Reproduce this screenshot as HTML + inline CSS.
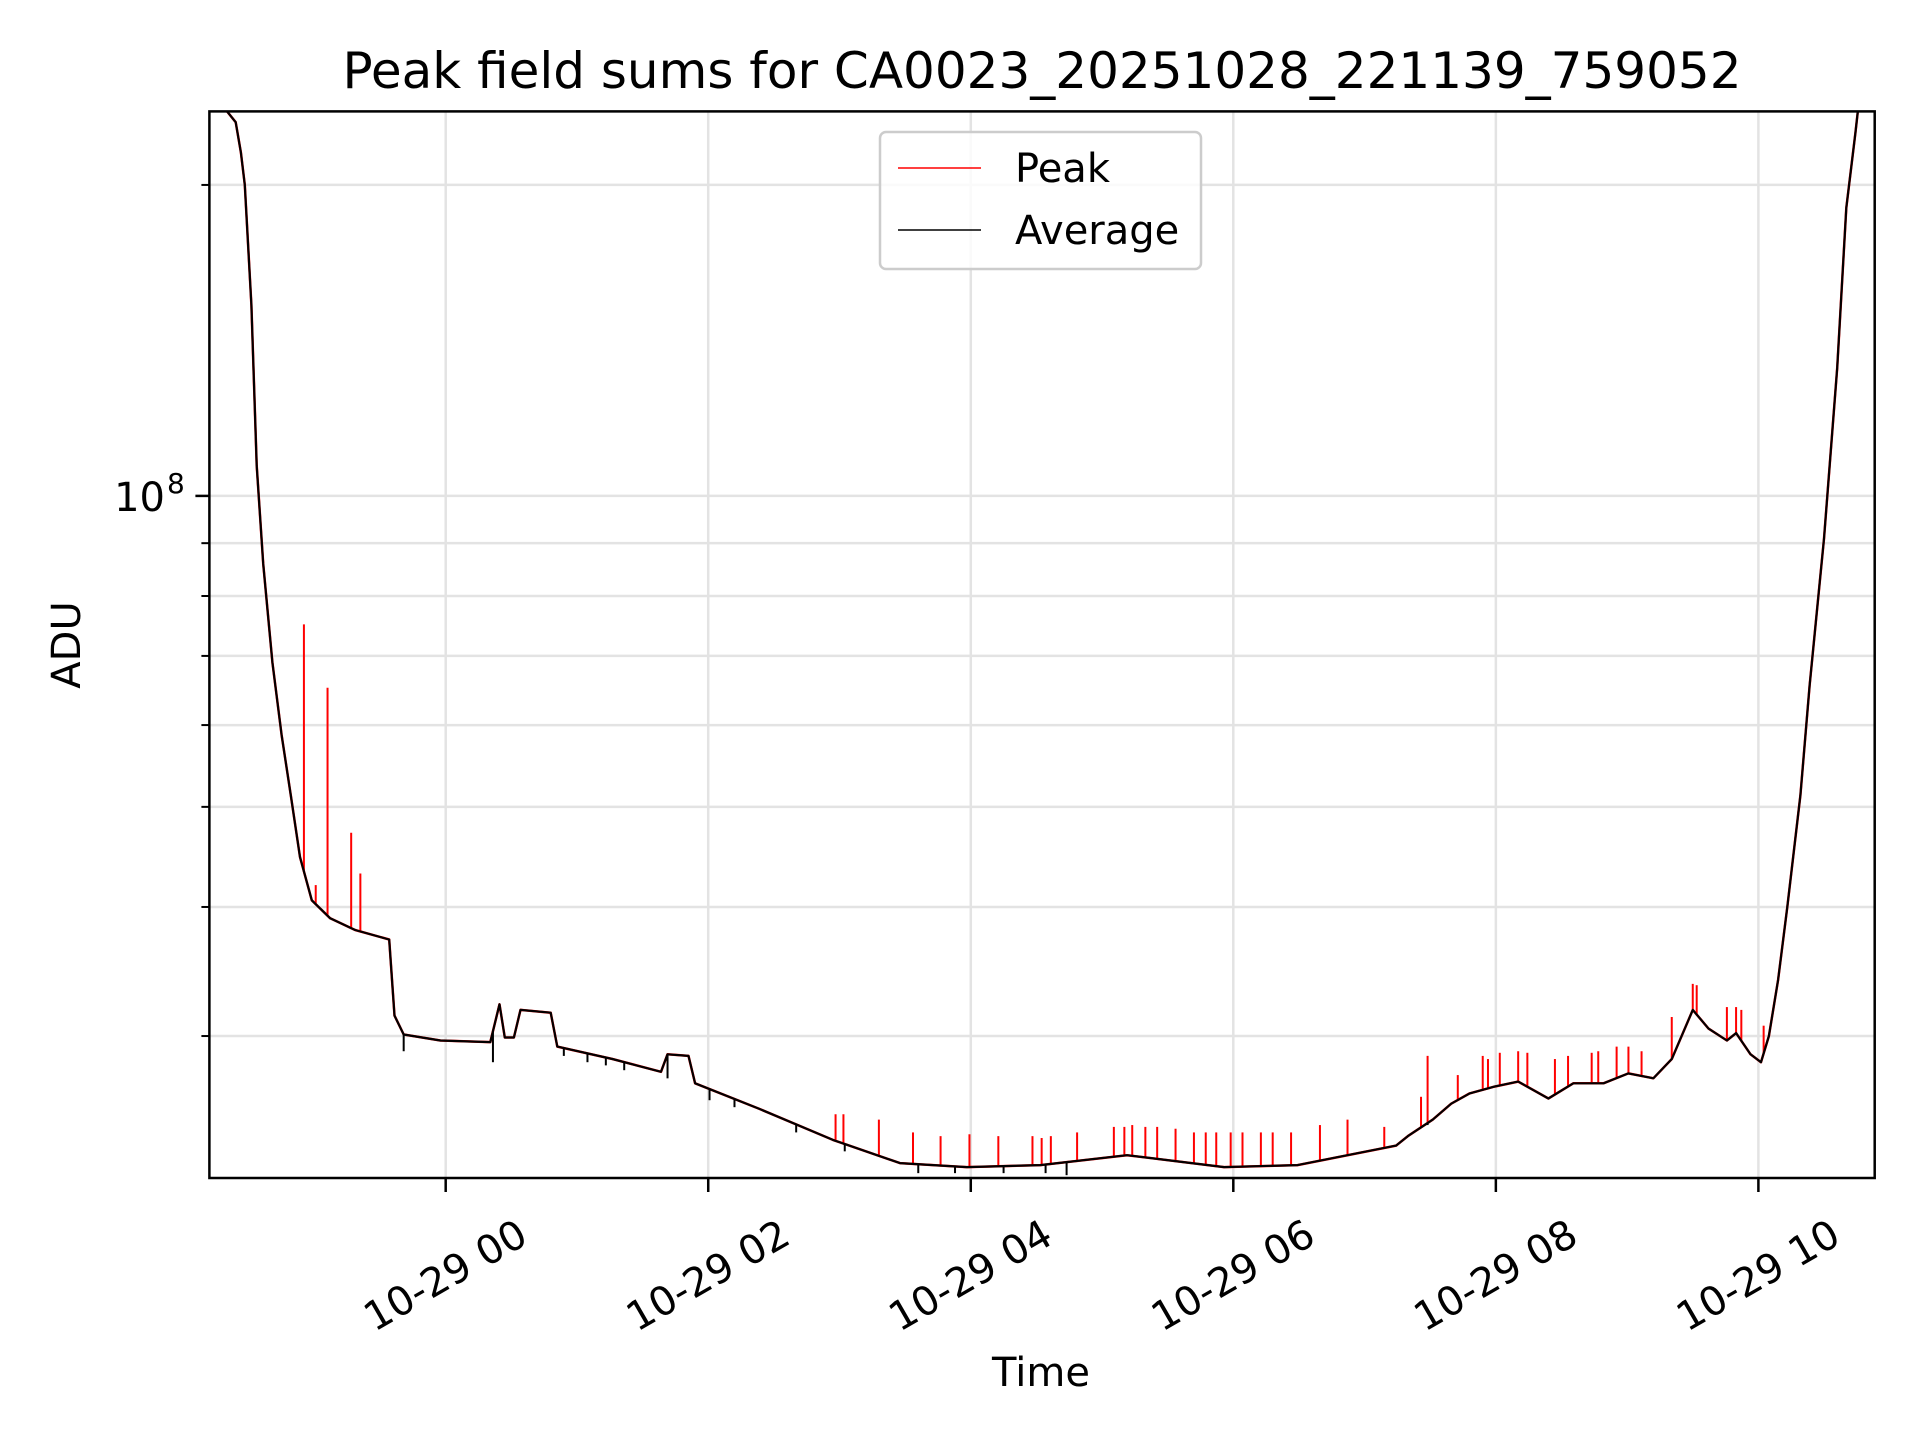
<!DOCTYPE html>
<html><head><meta charset="utf-8"><style>
html,body{margin:0;padding:0;background:#fff;}
svg{display:block;font-family:"DejaVu Sans","Liberation Sans",sans-serif;}
</style></head><body>
<svg id="chart" width="1920" height="1440" viewBox="0 0 1920 1440" xmlns="http://www.w3.org/2000/svg">
<rect width="1920" height="1440" fill="#fff"/>
<g id="grid"></g>
<g id="series"></g>
<rect x="209.4" y="111.4" width="1665.3" height="1066.6" fill="none" stroke="#000" stroke-width="2.5"/>
<g id="axes"></g>
<text x="1042" y="88" font-size="50" text-anchor="middle">Peak field sums for CA0023_20251028_221139_759052</text>
<text x="1041" y="1386" font-size="40" text-anchor="middle">Time</text>
<text transform="translate(80,645) rotate(-90)" font-size="40" text-anchor="middle">ADU</text>
<g>
<rect x="880" y="132" width="321" height="137" rx="6" fill="#fff" fill-opacity="0.8" stroke="#ccc" stroke-width="2.5"/>
<line x1="898" y1="168" x2="981" y2="168" stroke="#f00" stroke-width="1.5"/>
<text x="1015" y="182" font-size="40">Peak</text>
<line x1="898" y1="230" x2="981" y2="230" stroke="#000" stroke-width="1.5"/>
<text x="1015" y="244" font-size="40">Average</text>
</g>
</svg>
<script>
// hours relative to 2025-10-29 00:00
const avgTimes=[-1.80,-1.67,-1.60,-1.56,-1.53,-1.48,-1.44,-1.39,-1.32,-1.25,-1.18,-1.11,-1.02,-0.88,-0.69,-0.43,-0.39,-0.32,-0.04,0.34,0.41,0.45,0.52,0.57,0.80,0.85,1.27,1.64,1.69,1.85,1.90,2.39,2.95,3.46,3.97,4.53,5.19,5.93,6.49,7.24,7.33,7.52,7.66,7.80,7.99,8.17,8.40,8.59,8.82,9.01,9.20,9.34,9.50,9.62,9.76,9.83,9.94,10.02,10.08,10.15,10.22,10.32,10.39,10.50,10.60,10.67,10.74,10.78,10.89];
const avgValues=[2.5e8,2.36e8,2.3e8,2.15e8,2.0e8,1.53e8,1.07e8,8.6e7,6.9e7,5.87e7,5.13e7,4.47e7,4.06e7,3.9e7,3.8e7,3.72e7,3.14e7,3.01e7,2.97e7,2.96e7,3.22e7,2.99e7,2.99e7,3.18e7,3.16e7,2.93e7,2.85e7,2.77e7,2.88e7,2.87e7,2.7e7,2.55e7,2.38e7,2.26e7,2.24e7,2.25e7,2.30e7,2.24e7,2.25e7,2.35e7,2.40e7,2.49e7,2.58e7,2.64e7,2.68e7,2.71e7,2.61e7,2.7e7,2.7e7,2.76e7,2.73e7,2.85e7,3.18e7,3.05e7,2.97e7,3.02e7,2.88e7,2.83e7,3.0e7,3.40e7,4.0e7,5.13e7,6.55e7,9.09e7,1.33e8,1.9e8,2.25e8,2.5e8,3.2e8];
const spikeTimes=[-1.08,-0.99,-0.90,-0.72,-0.65,2.97,3.03,3.30,3.56,3.77,3.99,4.21,4.47,4.54,4.61,4.81,5.09,5.17,5.23,5.33,5.42,5.56,5.70,5.79,5.87,5.98,6.07,6.21,6.30,6.44,6.66,6.87,7.15,7.43,7.48,7.71,7.90,7.94,8.03,8.17,8.24,8.45,8.55,8.73,8.78,8.92,9.01,9.11,9.34,9.50,9.53,9.76,9.83,9.87,10.04];
const spikeValues=[7.51e7,4.2e7,6.52e7,4.72e7,4.31e7,2.52e7,2.52e7,2.49e7,2.42e7,2.40e7,2.41e7,2.40e7,2.40e7,2.39e7,2.40e7,2.42e7,2.45e7,2.45e7,2.46e7,2.45e7,2.45e7,2.44e7,2.42e7,2.42e7,2.42e7,2.42e7,2.42e7,2.42e7,2.42e7,2.42e7,2.46e7,2.49e7,2.45e7,2.62e7,2.87e7,2.75e7,2.87e7,2.85e7,2.89e7,2.90e7,2.89e7,2.85e7,2.87e7,2.89e7,2.90e7,2.93e7,2.93e7,2.90e7,3.13e7,3.37e7,3.36e7,3.20e7,3.20e7,3.18e7,3.07e7];
const dipTimes=[-0.32,0.36,0.90,1.08,1.22,1.36,1.69,2.01,2.20,2.67,3.04,3.60,3.88,4.25,4.57,4.73,7.48];
const dipValues=[2.90e7,2.83e7,2.87e7,2.83e7,2.81e7,2.78e7,2.73e7,2.60e7,2.56e7,2.42e7,2.32e7,2.21e7,2.21e7,2.21e7,2.21e7,2.2e7,2.46e7];
const xTickHours=[0,2,4,6,8,10];
const xTickLabels=["10-29 00","10-29 02","10-29 04","10-29 06","10-29 08","10-29 10"];
const yMinorTicks=[3e7,4e7,5e7,6e7,7e7,8e7,9e7,2e8];
const yMajorTicks=[1e8];

const L=209.4,R=1874.7,T=111.4,B=1178;
const xMin=-1.80,xMax=10.886;
const x=h=>L+(h-xMin)/(xMax-xMin)*(R-L);
const Y0=495.9,DEC=1033;
const y=v=>Y0-(Math.log10(v)-8)*DEC;
const NS="http://www.w3.org/2000/svg";
function mk(tag,attrs,parent){const e=document.createElementNS(NS,tag);for(const k in attrs)e.setAttribute(k,attrs[k]);parent.appendChild(e);return e;}
function avgAt(h){
  for(let i=0;i<avgTimes.length-1;i++){
    if(h>=avgTimes[i]&&h<=avgTimes[i+1]){const f=(h-avgTimes[i])/(avgTimes[i+1]-avgTimes[i]);
      return Math.pow(10,Math.log10(avgValues[i])*(1-f)+Math.log10(avgValues[i+1])*f);}
  }
  return avgValues[avgValues.length-1];
}
const grid=document.getElementById('grid'),axes=document.getElementById('axes'),series=document.getElementById('series');
xTickHours.forEach((h,i)=>{
  const gx=x(h);
  const g=mk('line',{x1:gx,x2:gx,y1:T,y2:B,stroke:'#e3e3e3','stroke-width':2.5},grid);
  
  
  const t=mk('line',{x1:gx,x2:gx,y1:B,y2:B+14,stroke:'#000','stroke-width':2.5},axes);
  
  
  const lb=mk('text',{transform:`translate(${gx},1276) rotate(-30)`,'font-size':40,'text-anchor':'middle','dominant-baseline':'central'},axes);
  lb.textContent=xTickLabels[i];
  
  
});
yMinorTicks.concat(yMajorTicks).forEach(v=>{
  const gy=y(v);
  if(gy<T||gy>B)return;
  const g=mk('line',{x1:L,x2:R,y1:gy,y2:gy,stroke:'#e3e3e3','stroke-width':2.5},grid);
  
  
  const major=yMajorTicks.includes(v);
  const t=mk('line',{x1:L-(major?14:8),x2:L,y1:gy,y2:gy,stroke:'#000','stroke-width':major?2.5:2},axes);
  
  
});
yMajorTicks.forEach(v=>{
  const lb=mk('text',{x:165,y:y(v)+15,'font-size':40,'text-anchor':'end'},axes);
  lb.textContent='10';
  
  
  const sp=mk('text',{x:167,y:y(v)-3,'font-size':28,'text-anchor':'start'},axes);
  sp.textContent='8';
  
  
});
mk('clipPath',{id:'clip'},series);
mk('rect',{x:L,y:T,width:R-L,height:B-T},document.getElementById('clip'));
const gs=mk('g',{'clip-path':'url(#clip)'},series);
const pts=avgTimes.map((h,i)=>x(h).toFixed(1)+','+y(avgValues[i]).toFixed(1)).join(' ');
const red=mk('polyline',{points:pts,fill:'none',stroke:'#f00','stroke-width':2.5,'stroke-linejoin':'round'},gs);


spikeTimes.forEach((h,i)=>{
  const sx=x(h);
  const s=mk('line',{x1:sx,x2:sx,y1:y(avgAt(h)),y2:y(spikeValues[i]),stroke:'#f00','stroke-width':2},gs);
  
  
});
const blk=mk('polyline',{points:pts,fill:'none',stroke:'#000','stroke-width':2.2,'stroke-linejoin':'round'},gs);


dipTimes.forEach((h,i)=>{
  const sx=x(h);
  const s=mk('line',{x1:sx,x2:sx,y1:y(avgAt(h)),y2:y(dipValues[i]),stroke:'#000','stroke-width':2},gs);
  
  
});
</script>
</body></html>
